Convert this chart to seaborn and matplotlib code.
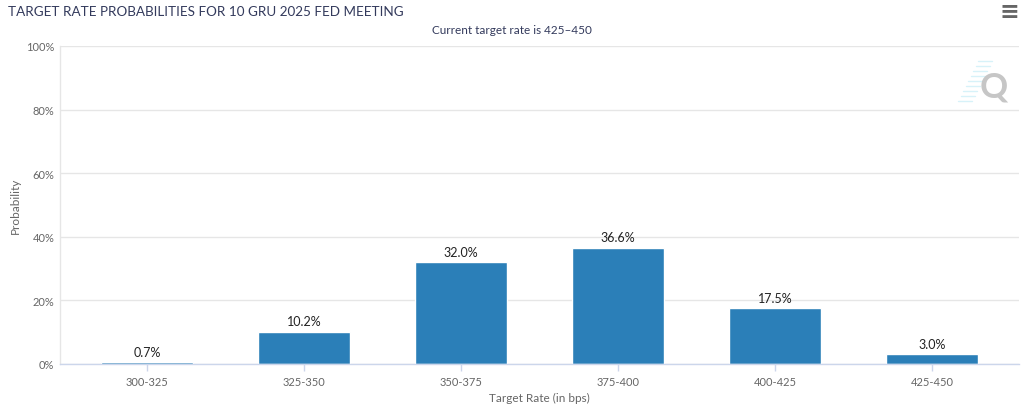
import matplotlib
matplotlib.use("Agg")
import matplotlib.pyplot as plt
import seaborn as sns
import pandas as pd
from matplotlib.lines import Line2D

# values
rates = ["300-325", "325-350", "350-375", "375-400", "400-425", "425-450"]
probs = [0.7, 10.2, 32.0, 36.6, 17.5, 3.0]
y_ticks = [0, 20, 40, 60, 80, 100]

title = "TARGET RATE PROBABILITIES FOR 10 GRU 2025 FED MEETING"
subtitle = "Current target rate is 425\u2013450"

df = pd.DataFrame({"rate": rates, "prob": probs})

sns.set_theme(style="white")
plt.rcParams["font.family"] = ["Lato", "DejaVu Sans"]

fig = plt.figure(figsize=(10.24, 4.06), dpi=100)
ax = fig.add_axes([60 / 1024, 41 / 406, 959 / 1024, 318 / 406])

grid_c = "#e6e6e6"
ax.set_axisbelow(True)
ax.grid(True, axis="both", color=grid_c, linewidth=1)

sns.barplot(data=df, x="rate", y="prob", color="#2b7fb8", saturation=1,
            width=0.59, ax=ax)

for cont in ax.containers:
    ax.bar_label(cont, labels=[f"{v:.1f}%" for v in probs], padding=3,
                 fontsize=9, color="#222222")

ax.set_xlim(-0.553, 5.553)
ax.set_ylim(0, 100)
ax.set_yticks(y_ticks)
ax.set_yticklabels([f"{t}%" for t in y_ticks])

for s in ["top", "right"]:
    ax.spines[s].set_visible(False)
ax.spines["left"].set_color(grid_c)
ax.spines["bottom"].set_color("#ccd6eb")
ax.spines["left"].set_linewidth(1)
ax.spines["bottom"].set_linewidth(1)

ax.tick_params(axis="x", which="both", length=5, width=1, color="#ccd6eb",
               labelsize=8, labelcolor="#666666", pad=4, bottom=True)
ax.tick_params(axis="y", length=0, labelsize=8, labelcolor="#666666", pad=4)

ax.set_xlabel("Target Rate (in bps)", fontsize=8.5, color="#666666", labelpad=3)
ax.set_ylabel("Probability", fontsize=8.5, color="#666666", labelpad=4)

fig.text(8 / 1024, 1 - 12 / 406, title, fontsize=9.7, color="#333a5c",
         ha="left", va="center")
fig.text(512 / 1024, 1 - 30 / 406, subtitle, fontsize=8.5, color="#333a5c",
         ha="center", va="center")

# watermark and menu icon
for i in range(9):
    y0 = 1 - (62 + i * 5) / 406
    x0 = (992 - i * 2.5) / 1024
    fig.add_artist(Line2D([x0 - 14 / 1024, x0], [y0, y0], color="#cdeff8",
                          linewidth=1, alpha=0.8))
fig.text(994 / 1024, 1 - 88 / 406, "Q", fontsize=25, fontweight="bold",
         color="#c6c6c6", ha="center", va="center")
fig.text(1009 / 1024, 1 - 12 / 406, "\u2261", fontsize=17, color="#666666",
         ha="center", va="center", family="DejaVu Sans", fontweight="bold")

fig.savefig("out.png", dpi=100)
